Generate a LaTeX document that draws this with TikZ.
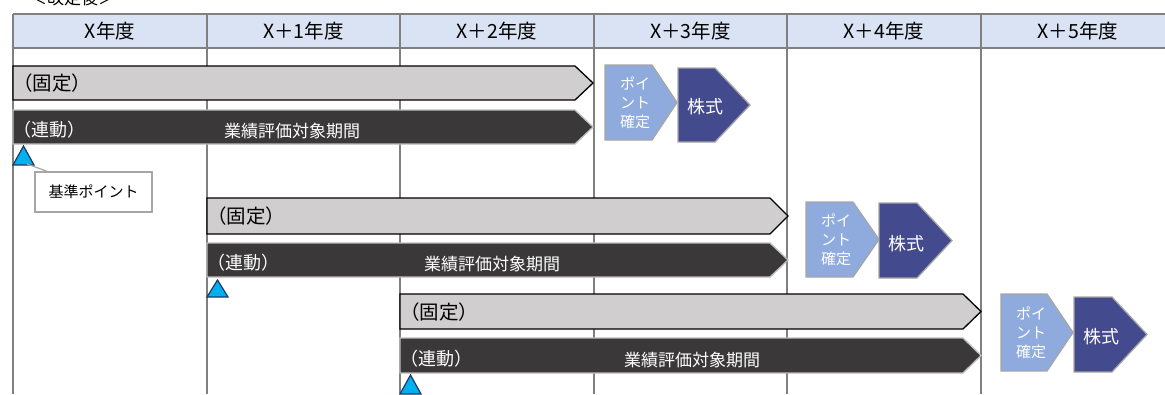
\documentclass[tikz,border=0pt]{standalone}
\usepackage{fontspec}
\newfontfamily\jp{Noto Sans CJK JP}
\definecolor{hdrfill}{HTML}{DAE3F3}
\definecolor{gridc}{HTML}{808080}
\definecolor{fixfill}{HTML}{D0CECE}
\definecolor{linkfill}{HTML}{3A3838}
\definecolor{linkdraw}{HTML}{BFBFBF}
\definecolor{ptfill}{HTML}{8FAADC}
\definecolor{stfill}{HTML}{434A8E}
\definecolor{pentdraw}{HTML}{A6A6A6}
\definecolor{trifill}{HTML}{00B0F0}
\definecolor{tridraw}{HTML}{1F3864}
\newcommand\arrowshape[6]{\draw[#6] (#1,#3) -- ({#2-#5},#3) -- (#2,{(#3+#4)/2}) -- ({#2-#5},#4) -- (#1,#4) -- cycle;}
\newcommand\trimark[3]{\draw[tri] (#1,#2) -- ({#1+21},#2) -- ({#1+10.5},#3) -- cycle;}
\tikzset{
  gridline/.style={draw=gridc, line width=1.3pt},
  fixbar/.style={fill=fixfill, draw=black, line width=1.3pt},
  linkbar/.style={fill=linkfill, draw=linkdraw, line width=1.3pt},
  ptbox/.style={fill=ptfill, draw=pentdraw, line width=1.3pt},
  stbox/.style={fill=stfill, draw=pentdraw, line width=1.3pt},
  tri/.style={fill=trifill, draw=tridraw, line width=1.2pt, line join=miter},
  hdrtxt/.style={font=\jp\fontsize{19.5}{22}\selectfont},
  fixtxt/.style={font=\jp\fontsize{19.5}{22}\selectfont, anchor=west},
  linktxt/.style={font=\jp\fontsize{18}{20}\selectfont, anchor=west, text=white},
  periodtxt/.style={font=\jp\fontsize{17}{19}\selectfont, text=white},
  pttxt/.style={font=\jp\fontsize{15}{19}\selectfont, text=white, align=center},
  sttxt/.style={font=\jp\fontsize{18}{20}\selectfont, text=white},
}
\begin{document}
\begin{tikzpicture}[x=1pt,y=-1pt, every node/.style={inner sep=0pt}]
\useasboundingbox (0,0) rectangle (1165,394);
\clip (0,0) rectangle (1165,394);
\fill[white] (0,0) rectangle (1165,394);
% cut-off title
\node[font=\jp\fontsize{17}{20}\selectfont, anchor=base west] (title) at (30,4) {＜改定後＞};
% header
\fill[hdrfill] (13,14) rectangle (1175,48);
\draw[gridline] (13,14) -- (1175,14);
\draw[gridline] (13,48) -- (1175,48);
\foreach \x in {13,207,400,594,787,981} \draw[gridline] (\x,14) -- (\x,394);
\node[hdrtxt] (h0) at (110,31) {X年度};
\node[hdrtxt] (h1) at (303.5,31) {X＋1年度};
\node[hdrtxt] (h2) at (497,31) {X＋2年度};
\node[hdrtxt] (h3) at (690.5,31) {X＋3年度};
\node[hdrtxt] (h4) at (884,31) {X＋4年度};
\node[hdrtxt] (h5) at (1078,31) {X＋5年度};
% row 1
\arrowshape{13}{593}{66}{100}{18}{fixbar}
\arrowshape{13}{593}{110}{144}{18}{linkbar}
\node[fixtxt] (f1) at (13,83) {（固定）};
\node[linktxt] (l1) at (13,130) {（連動）};
\node[periodtxt] (e1) at (292,131) {業績評価対象期間};
\arrowshape{605}{677}{65}{140}{25}{ptbox}
\arrowshape{678}{750}{68}{142}{35}{stbox}
\node[pttxt] (p1) at (635,103) {ポイ\\ント\\確定};
\node[sttxt] (s1) at (705,107) {株式};
\trimark{13}{165}{146}
\coordinate (t1) at (27,164);
\node[draw=pentdraw, fill=white, line width=1.2pt, minimum width=117pt, minimum height=40pt, font=\jp\fontsize{15}{17}\selectfont] (kijun) at (93.5,192) {基準ポイント};
\draw[draw=pentdraw, line width=1.2pt] (t1) -- ([xshift=13pt]kijun.north west);
% row 2
\arrowshape{207}{788}{198}{234}{18}{fixbar}
\arrowshape{207}{788}{243}{277}{18}{linkbar}
\node[fixtxt] (f2) at (207,216) {（固定）};
\node[linktxt] (l2) at (207,263) {（連動）};
\node[periodtxt] (e2) at (492,264) {業績評価対象期間};
\arrowshape{806}{879}{202}{277}{26}{ptbox}
\arrowshape{879}{952}{203}{278}{35}{stbox}
\node[pttxt] (p2) at (836,240) {ポイ\\ント\\確定};
\node[sttxt] (s2) at (906,244) {株式};
\trimark{207}{297}{280}
% row 3
\arrowshape{400}{981}{294}{329}{18}{fixbar}
\arrowshape{400}{981}{338}{373}{18}{linkbar}
\node[fixtxt] (f3) at (400,312) {（固定）};
\node[linktxt] (l3) at (400,359) {（連動）};
\node[periodtxt] (e3) at (692,360) {業績評価対象期間};
\arrowshape{1001}{1073}{294}{371}{26}{ptbox}
\arrowshape{1074}{1147}{297}{372}{35}{stbox}
\node[pttxt] (p3) at (1031,333) {ポイ\\ント\\確定};
\node[sttxt] (s3) at (1101,337) {株式};
\trimark{400}{394}{375}
\end{tikzpicture}
\end{document}
